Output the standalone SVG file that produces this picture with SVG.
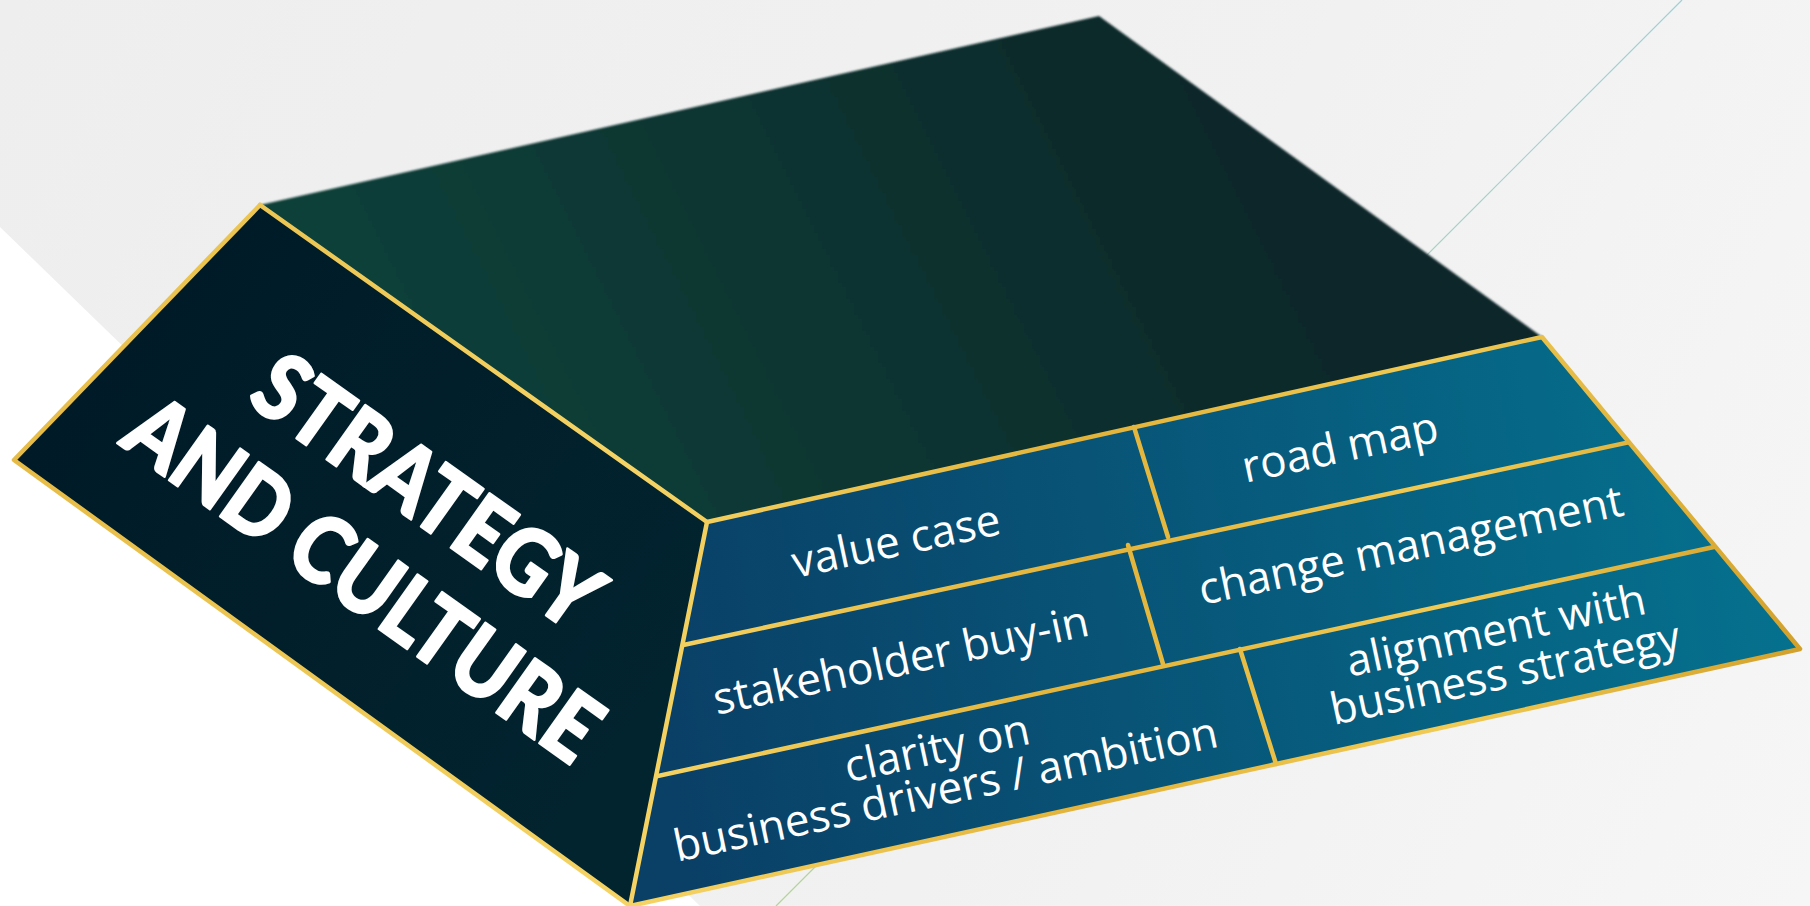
<svg xmlns="http://www.w3.org/2000/svg" width="1810" height="906" viewBox="0 0 1810 906">
<defs>
  <linearGradient id="bgG" gradientUnits="userSpaceOnUse" x1="0" y1="0" x2="1810" y2="906">
    <stop offset="0" stop-color="#eeeeee"/>
    <stop offset="0.6" stop-color="#f1f1f1"/>
    <stop offset="1" stop-color="#f6f6f6"/>
  </linearGradient>
  <linearGradient id="topG" gradientUnits="userSpaceOnUse" x1="450" y1="480" x2="1250" y2="80">
    <stop offset="0" stop-color="#0f4039"/>
    <stop offset="1" stop-color="#0b2729"/>
  </linearGradient>
  <linearGradient id="leftG" gradientUnits="userSpaceOnUse" x1="100" y1="300" x2="650" y2="700">
    <stop offset="0" stop-color="#001a27"/>
    <stop offset="1" stop-color="#02242f"/>
  </linearGradient>
  <linearGradient id="frontG" gradientUnits="userSpaceOnUse" x1="650" y1="700" x2="1800" y2="520">
    <stop offset="0" stop-color="#0a3f66"/>
    <stop offset="1" stop-color="#05728f"/>
  </linearGradient>
  <linearGradient id="goldG" gradientUnits="userSpaceOnUse" x1="0" y1="0" x2="1810" y2="0">
    <stop offset="0" stop-color="#e6bb45"/>
    <stop offset="0.35" stop-color="#f5d465"/>
    <stop offset="0.6" stop-color="#e2b33a"/>
    <stop offset="0.8" stop-color="#f0cb55"/>
    <stop offset="1" stop-color="#d2a02a"/>
  </linearGradient>
  <linearGradient id="lineG" gradientUnits="userSpaceOnUse" x1="1682" y1="0" x2="776" y2="906">
    <stop offset="0" stop-color="#9fd0d6"/>
    <stop offset="1" stop-color="#b6d39a"/>
  </linearGradient>
  <filter id="soft" x="-5%" y="-5%" width="110%" height="110%">
    <feGaussianBlur stdDeviation="1.3"/>
  </filter>
  <clipPath id="frontClip">
    <polygon points="707,522 1542,337 1800,649 630,906"/>
  </clipPath>
</defs>
<style>
  .gold{fill:none;stroke:url(#goldG);stroke-width:4.5;stroke-linecap:round;stroke-linejoin:round}
  .lbl{font-family:"Open Sans","Liberation Sans",sans-serif;font-size:44px;fill:#ffffff;text-anchor:middle}
  .big{font-family:"Lato","Liberation Sans",sans-serif;font-weight:900;font-size:92px;fill:#ffffff;stroke:#ffffff;stroke-width:2.5;stroke-linejoin:round;text-anchor:middle}
</style>

<g id="background">
  <rect x="0" y="0" width="1810" height="906" fill="url(#bgG)"/>
  <polygon points="0,227 700,906 0,906" fill="#ffffff"/>
  <line x1="1682" y1="0" x2="776" y2="906" stroke="url(#lineG)" stroke-width="1.2"/>
</g>

<g id="top-face">
  <polygon points="260,205 1099,16 1542,337 707,522" fill="url(#topG)" filter="url(#soft)"/>
</g>

<g id="left-face">
  <polygon points="260,205 707,522 630,906 14,460" fill="url(#leftG)"/>
  <g transform="translate(428,491) rotate(35.4) scale(0.88,1)">
    <text class="big" x="0" y="33">STRATEGY</text>
    <text class="big" x="-2" y="141">AND CULTURE</text>
  </g>
</g>

<g id="front-face">
  <polygon points="707,522 1542,337 1800,649 630,906" fill="url(#frontG)"/>
</g>

<g id="connectors">
  <g clip-path="url(#frontClip)">
    <line class="gold" x1="660" y1="650" x2="1700" y2="427"/>
    <line class="gold" x1="630" y1="782" x2="1760" y2="537"/>
  </g>
  <line class="gold" x1="1134" y1="427" x2="1168" y2="537"/>
  <line class="gold" x1="1128" y1="545" x2="1163" y2="664"/>
  <line class="gold" x1="1240" y1="649" x2="1276" y2="764"/>
  <polyline class="gold" points="260,205 14,460 630,906"/>
  <line class="gold" x1="260" y1="205" x2="707" y2="522"/>
  <polygon class="gold" points="707,522 1542,337 1800,649 630,906"/>
</g>

<g id="cell-value-case">
  <text class="lbl" transform="translate(899,556) rotate(-12)">value case</text>
</g>
<g id="cell-road-map">
  <text class="lbl" transform="translate(1343,462) rotate(-12)">road map</text>
</g>
<g id="cell-stakeholder">
  <text class="lbl" transform="translate(904,675) rotate(-12)">stakeholder buy-in</text>
</g>
<g id="cell-change">
  <text class="lbl" transform="translate(1414,560) rotate(-12)">change management</text>
</g>
<g id="cell-clarity">
  <text class="lbl" transform="translate(940,763) rotate(-12)"><tspan x="0" y="0">clarity on</tspan><tspan x="0" y="42">business drivers / ambition</tspan></text>
</g>
<g id="cell-alignment">
  <text class="lbl" transform="translate(1499,645) rotate(-12)"><tspan x="0" y="0">alignment with</tspan><tspan x="0" y="44">business strategy</tspan></text>
</g>
</svg>
